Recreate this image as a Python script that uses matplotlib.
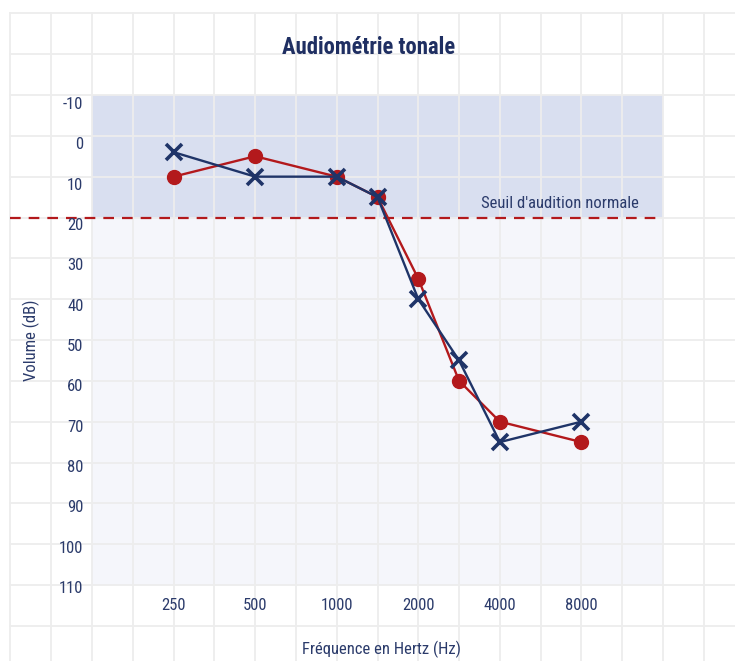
import numpy as np
import matplotlib
matplotlib.use("Agg")
import matplotlib.pyplot as plt
from matplotlib.transforms import ScaledTranslation

# ---- data ----
freqs = [250, 500, 1000, 1500, 2000, 3000, 4000, 8000]
right_ear = [10, 5, 10, 15, 35, 60, 70, 75]     # red circles
left_ear = [4, 10, 10, 15, 40, 55, 75, 70]      # blue crosses
octave_ticks = [250, 500, 1000, 2000, 4000, 8000]
db_ticks = list(range(-10, 111, 10))
normal_threshold = 20
title = "Audiométrie tonale"
xlabel = "Fréquence en Hertz (Hz)"
ylabel = "Volume (dB)"
threshold_label = "Seuil d'audition normale"

# ---- style ----
FONT = "Roboto Condensed"
TXT = "#2b3b6b"
TITLE_C = "#1f2f62"
RED = "#b3191c"
BLUE = "#1f3468"
SHADE_TOP = "#d9dff0"
SHADE_LOW = "#f5f6fb"
GRID = "#ededed"

plt.rcParams['font.family'] = [FONT, 'DejaVu Sans']


def fpos(f):
    """half-octave position relative to 250 Hz"""
    return np.round(2 * np.log2(np.asarray(f, dtype=float) / 250.0)) / 2


W, H = 735, 661
fig = plt.figure(figsize=(W / 100, H / 100), dpi=100)

# main plot area in pixels
L, R, T, B = 92, 663, 95, 585
x0, x1 = -1, 6
y0, y1 = -10, 110
pxx = (R - L) / (x1 - x0)
pxy = (B - T) / (y1 - y0)

# background grid axes (extends over the whole figure)
bx0 = -2.02
by0 = -30.3
bg_left = L - (x0 - bx0) * pxx
bg_top = T - (y0 - by0) * pxy
bx1 = x1 + (W - R) / pxx
by1 = y1 + (H - B) / pxy
bg = fig.add_axes([bg_left / W, 0, (W - bg_left) / W, (H - bg_top) / H], zorder=0)
bg.set_xlim(bx0, bx1)
bg.set_ylim(by1, by0)
bg.set_xticks(np.arange(-2, 7.0, 0.5))
bg.set_yticks(np.arange(-30, 130, 10))
bg.tick_params(length=0, labelbottom=False, labelleft=False)
bg.grid(True, color=GRID, lw=1.3)
for s in bg.spines.values():
    s.set_visible(False)
bg.set_facecolor("white")
bg.fill_between([x0, x1], y0, normal_threshold, color=SHADE_TOP, lw=0, zorder=1)
bg.fill_between([x0, x1], normal_threshold, y1, color=SHADE_LOW, lw=0, zorder=1)
bg.plot([-2, x1], [normal_threshold, normal_threshold], color=RED, lw=1.6,
        ls=(0, (4.8, 3.6)), zorder=3)

# main axes
ax = fig.add_axes([L / W, (H - B) / H, (R - L) / W, (B - T) / H], zorder=1)
ax.set_facecolor("none")
ax.set_xlim(x0, x1)
ax.set_ylim(y1, y0)
for s in ax.spines.values():
    s.set_visible(False)

ax.plot(fpos(freqs), right_ear, color=RED, lw=1.7, marker='o', ms=10,
        mfc=RED, mec=RED, zorder=3)
ax.plot(fpos(freqs), left_ear, color=BLUE, lw=1.7, marker='x', ms=11,
        mew=2.6, zorder=4)

ax.set_xticks(fpos(octave_ticks))
ax.set_xticklabels([str(f) for f in octave_ticks])
ax.set_yticks(db_ticks)
ax.set_yticklabels([str(d) for d in db_ticks])
ax.tick_params(axis='both', length=0, labelsize=12, labelcolor=TXT)
ax.tick_params(axis='x', pad=9)
ax.tick_params(axis='y', pad=6.2)
n = len(db_ticks)
for i, lab in enumerate(ax.get_yticklabels()):
    off = 8 - 6 * i / (n - 1)
    lab.set_transform(lab.get_transform() + ScaledTranslation(0, -off / 100, fig.dpi_scale_trans))

ax.text(x0 + (639 - L) / pxx, y0 + (207.7 - T) / pxy, threshold_label,
        ha='right', va='baseline', fontsize=12, color=TXT, zorder=5)

ax.set_xlabel(xlabel, fontsize=12, color=TXT)
ax.xaxis.set_label_coords((381 - L) / (R - L), -(654 - B) / (B - T))
ax.xaxis.label.set_va('baseline')
ax.set_ylabel(ylabel, fontsize=12, color=TXT)
ax.yaxis.set_label_coords((31.5 - L) / (R - L), 0.5)
ax.yaxis.label.set_va('center')

fig.text(368.5 / W, 1 - 54 / H, title, ha='center', va='baseline', fontsize=16.3,
         fontweight='bold', color=TITLE_C)

fig.savefig("out.png", dpi=100)
